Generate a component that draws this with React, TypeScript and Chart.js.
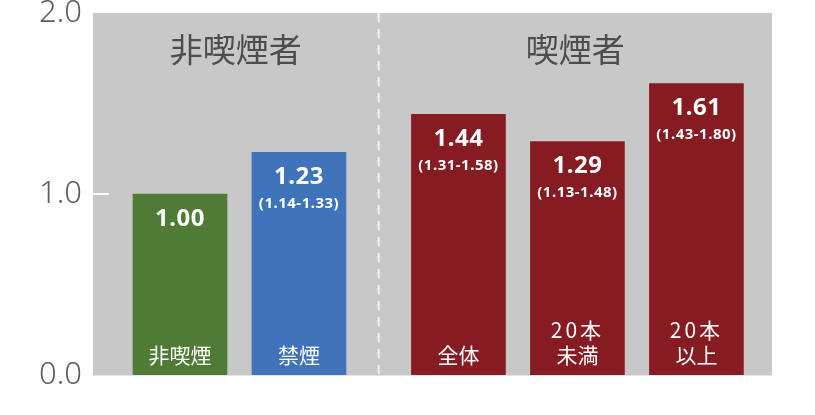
import React, { useEffect, useRef } from 'react';
import { Chart, registerables } from 'chart.js';

Chart.register(...registerables);

// Data
const groupNames = ['非喫煙者', '喫煙者'];
const categories: string[][] = [['非喫煙'], ['禁煙'], ['全体'], ['20本', '未満'], ['20本', '以上']];
const groupOf = [0, 0, 1, 1, 1];
const values = [1.0, 1.23, 1.44, 1.29, 1.61];
const ciLow: (number | null)[] = [null, 1.14, 1.31, 1.13, 1.43];
const ciHigh: (number | null)[] = [null, 1.33, 1.58, 1.48, 1.8];
const yTicks = [0, 1, 2];

const barColors = ['#4f7b34', '#3f74bb', '#861c21', '#861c21', '#861c21'];
const GROUP_GAP = 0.34;

const xPos = values.map((_, i) => i + groupOf[i] * GROUP_GAP);

const JP_FONT = '"Noto Sans CJK JP", "Noto Sans", sans-serif';
const NUM_FONT = '"Noto Sans", "DejaVu Sans", sans-serif';

const App: React.FC = () => {
  const chartRef = useRef<HTMLCanvasElement>(null);
  const chartInstance = useRef<Chart | null>(null);

  useEffect(() => {
    if (!chartRef.current) return;
    const ctx = chartRef.current.getContext('2d');
    if (!ctx) return;

    // divider between groups sits midway between last bar of group 0 and first of group 1
    const lastOfFirst = groupOf.lastIndexOf(0);
    const dividerValue = (xPos[lastOfFirst] + xPos[lastOfFirst + 1]) / 2;

    const decorations = {
      id: 'decorations',
      beforeDatasetsDraw(chart: Chart) {
        const { ctx: c, chartArea: a, scales } = chart;
        c.save();
        c.fillStyle = '#c8c8c8';
        c.fillRect(a.left, a.top, a.right - a.left, a.bottom - a.top);

        // short white tick marks inside the plot (interior ticks only)
        c.strokeStyle = '#ffffff';
        c.lineWidth = 2;
        yTicks.slice(1, -1).forEach(t => {
          const y = scales.y.getPixelForValue(t);
          c.beginPath();
          c.moveTo(a.left, y);
          c.lineTo(a.left + 16, y);
          c.stroke();
        });

        // bottom edge
        c.strokeStyle = '#e4e4e4';
        c.lineWidth = 1;
        c.beginPath();
        c.moveTo(a.left, a.bottom + 0.5);
        c.lineTo(a.right, a.bottom + 0.5);
        c.stroke();

        // dashed divider
        const dx = scales.x.getPixelForValue(dividerValue);
        c.strokeStyle = '#f2f2f2';
        c.lineWidth = 2;
        c.setLineDash([9, 7]);
        c.beginPath();
        c.moveTo(dx, a.top);
        c.lineTo(dx, a.bottom);
        c.stroke();
        c.setLineDash([]);

        // group titles centred on each section
        c.fillStyle = '#4d4d4d';
        c.font = `33px ${JP_FONT}`;
        c.textAlign = 'center';
        c.textBaseline = 'middle';
        c.fillText(groupNames[0], (a.left + dx) / 2, 49);
        c.fillText(groupNames[1], (dx + a.right) / 2, 49);
        c.restore();
      },
      afterDatasetsDraw(chart: Chart) {
        const { ctx: c, chartArea: a } = chart;
        const meta = chart.getDatasetMeta(0);
        c.save();
        c.fillStyle = '#ffffff';
        c.textAlign = 'center';
        c.textBaseline = 'middle';
        meta.data.forEach((el: any, i: number) => {
          const x = el.x;
          const top = el.y;
          (c as any).letterSpacing = '0.5px';
          c.font = `bold 24px ${NUM_FONT}`;
          c.fillText(values[i].toFixed(2), x, top + 25);
          if (ciLow[i] !== null && ciHigh[i] !== null) {
            c.font = `bold 15px ${NUM_FONT}`;
            c.fillText(`(${ciLow[i]!.toFixed(2)}-${ciHigh[i]!.toFixed(2)})`, x, top + 51);
          }
          c.font = `21px ${JP_FONT}`;
          const lines = categories[i];
          lines.forEach((line, k) => {
            (c as any).letterSpacing = /\d/.test(line) ? '3px' : '0px';
            c.fillText(line, x, a.bottom - 20 - (lines.length - 1 - k) * 24.5);
          });
        });
        c.restore();
      },
    };

    chartInstance.current = new Chart(ctx, {
      type: 'bar',
      data: {
        datasets: [
          {
            data: values.map((v, i) => ({ x: xPos[i], y: v })),
            backgroundColor: barColors,
            borderWidth: 0,
            barThickness: 94,
          },
        ],
      },
      options: {
        animation: false,
        responsive: true,
        maintainAspectRatio: false,
        layout: { padding: { top: 13, right: 43, bottom: 40, left: 0 } },
        plugins: {
          legend: { display: false },
          tooltip: { enabled: false },
        },
        scales: {
          x: {
            type: 'linear',
            display: false,
            offset: false,
            min: -0.731,
            max: 4.975,
          },
          y: {
            min: 0,
            max: 2,
            grid: { display: false, drawTicks: false },
            border: { display: false },
            afterFit(scale: any) {
              scale.width = 93;
              scale.paddingTop = 0;
              scale.paddingBottom = 0;
            },
            afterBuildTicks(scale: any) {
              scale.ticks = yTicks.map(v => ({ value: v }));
            },
            ticks: {
              padding: 11,
              color: '#5e5e5e',
              font: { family: NUM_FONT, size: 31, weight: 300 },
              callback: (value: any) => Number(value).toFixed(1),
            },
          },
        },
      },
      plugins: [decorations],
    });

    return () => {
      if (chartInstance.current) {
        chartInstance.current.destroy();
        chartInstance.current = null;
      }
    };
  }, []);

  return (
    <div style={{ position: 'fixed', left: 0, top: 0, width: '815px', height: '415px', background: '#ffffff' }}>
      <canvas ref={chartRef} />
    </div>
  );
};

export default App;
